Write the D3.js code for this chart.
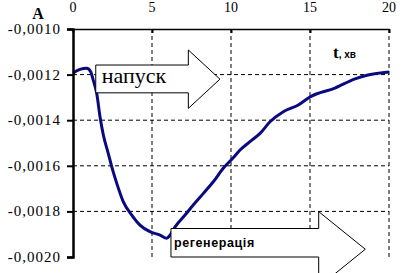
<!DOCTYPE html>
<html><head>
<script src="https://cdn.jsdelivr.net/npm/d3@7"></script>
</head><body style="margin:0">
<svg id="c" width="416" height="273" style="font-family:'Liberation Serif'"></svg>
<script>
const xTicks = [0, 5, 10, 15, 20];
const yTicks = [-0.0010, -0.0012, -0.0014, -0.0016, -0.0018, -0.0020];
const tVals = [0, 0.44, 0.87, 1.12, 1.28, 1.5, 1.71, 1.92, 2.23, 2.45, 2.77, 3.18, 3.72, 4.24, 4.87, 5.51, 5.93, 6.14, 6.46, 7.09, 7.61, 8.25, 8.88, 9.51, 10.11, 10.57, 11.2, 11.84, 12.47, 13.31, 14.26, 15.0, 16.58, 17.85, 18.67, 20];
const aVals = [-0.001193, -0.001177, -0.001172, -0.001187, -0.001224, -0.001282, -0.001385, -0.001465, -0.001545, -0.001604, -0.001677, -0.001757, -0.001816, -0.00186, -0.001889, -0.001904, -0.001918, -0.001904, -0.001868, -0.001816, -0.001772, -0.001721, -0.00167, -0.001611, -0.001567, -0.001531, -0.001494, -0.001458, -0.001407, -0.001363, -0.001333, -0.001298, -0.001259, -0.001219, -0.001202, -0.001189];
const arrowLabels = ["напуск", "регенерація"];
// arrows: [t start, t body end, t tip, A body top, A body bottom, A head top, A head bottom]
const arrow1 = [1.44, 7.3, 9.3, -0.001158, -0.001280, -0.001092, -0.001348];
const arrow2 = [6.2, 15.55, 18.5, -0.001875, -0.0020, -0.001801, -0.002131];

const svg = d3.select("#c");
const x = d3.scaleLinear().domain([0, 20]).range([73, 389]);
const y = d3.scaleLinear().domain([-0.0020, -0.0010]).range([257, 29]);
const loc = d3.formatLocale({decimal: ",", thousands: " ", grouping: [3], currency: ["", ""], minus: "-"});
const fmt = loc.format(".4f");

// grid
const g = svg.append("g");
g.selectAll("line.h").data(yTicks.filter(v => v !== -0.0010 && v !== -0.0020)).join("line")
  .attr("x1", x(0)).attr("x2", x(20)).attr("y1", d => y(d)).attr("y2", d => y(d))
  .attr("stroke", "#000").attr("stroke-width", 1).attr("stroke-dasharray", "4,3");
g.selectAll("line.v").data(xTicks.filter(v => v !== 0)).join("line")
  .attr("y1", y(-0.0010)).attr("y2", y(-0.0020)).attr("x1", d => x(d)).attr("x2", d => x(d))
  .attr("stroke", "#000").attr("stroke-width", 1).attr("stroke-dasharray", "4,3");

// curve
const line = d3.line().x((d, i) => x(tVals[i])).y(d => y(d)).curve(d3.curveMonotoneX);
svg.append("path").attr("d", line(aVals)).attr("fill", "none").attr("stroke", "#0a0a80").attr("stroke-width", 3);

// arrows
function arrow(a) {
  const [t0, t1, t2, yt, yb, ht, hb] = a;
  const pts = [[x(t0), y(yt)], [x(t1), y(yt)], [x(t1), y(ht)], [x(t2), (y(ht) + y(hb)) / 2], [x(t1), y(hb)], [x(t1), y(yb)], [x(t0), y(yb)]];
  svg.append("polygon").attr("points", pts.map(p => p.join(",")).join(" "))
    .attr("fill", "#fff").attr("stroke", "#000").attr("stroke-width", 1);
  return pts;
}
const p1 = arrow(arrow1);
const p2 = arrow(arrow2);

// axes (lines only; labels drawn below)
const ya = svg.append("g").attr("transform", `translate(${x(0)},0)`)
  .call(d3.axisLeft(y).tickValues(yTicks).tickFormat(fmt).tickSize(6));
ya.select(".domain").attr("stroke-width", 2.5);
ya.selectAll(".tick line").attr("stroke-width", 2);
ya.selectAll("text").remove();
ya.attr("font-family", null);
const xa = svg.append("g").attr("transform", `translate(0,${y(-0.0010)})`)
  .call(d3.axisTop(x).tickValues(xTicks).tickSize(-4).tickSizeOuter(0));
xa.select(".domain").attr("stroke-width", 1.5);
xa.selectAll(".tick line").attr("stroke-width", 2);
xa.selectAll("text").remove();
xa.attr("font-family", null);

const lab = svg.append("g");
lab.selectAll("text.y").data(yTicks).join("text")
  .attr("x", 61).attr("y", d => y(d) + 5).attr("text-anchor", "end")
  .attr("font-size", 15).attr("letter-spacing", 1).text(d => fmt(d));
lab.selectAll("text.x").data(xTicks).join("text")
  .attr("x", d => x(d)).attr("y", 12).attr("text-anchor", "middle")
  .attr("font-size", 14).text(d => d);
lab.append("text").attr("x", 38).attr("y", 19).attr("text-anchor", "middle")
  .attr("font-size", 16).attr("font-weight", "bold").text("A");
const tt = lab.append("text").attr("x", 333).attr("y", 58).attr("font-weight", "bold");
tt.append("tspan").attr("font-size", 17).text("t");
tt.append("tspan").attr("font-size", 10).style("font-family", "'Liberation Sans'").text(", хв");
lab.append("text").attr("x", p1[0][0] + 6).attr("y", 83).attr("font-size", 22).text(arrowLabels[0]);
lab.append("text").attr("x", p2[0][0] + 3).attr("y", 247).attr("font-size", 12.5).attr("font-weight", "bold")
  .attr("letter-spacing", 0.6).style("font-family", "'Liberation Sans'").text(arrowLabels[1]);
</script>
</body></html>
